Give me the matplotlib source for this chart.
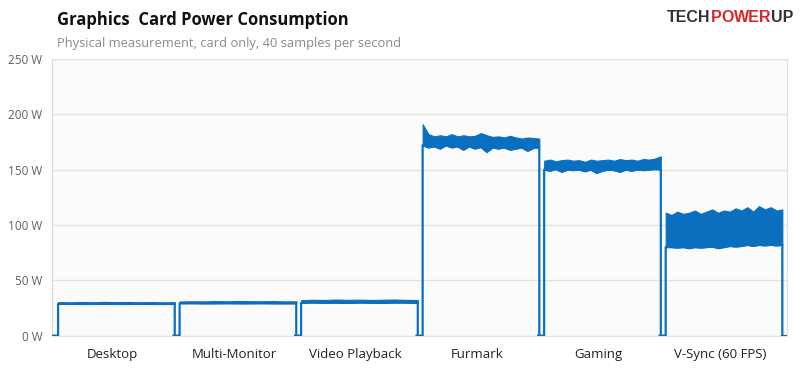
import matplotlib.pyplot as plt
import numpy as np

plt.rcParams["font.family"] = ["Open Sans", "DejaVu Sans"]

categories = ["Desktop", "Multi-Monitor", "Video Playback", "Furmark", "Gaming", "V-Sync (60 FPS)"]

# envelope of the noisy trace, read at evenly spaced points across each test
desktop_lo = [28.6, 28.7, 28.6, 28.6, 28.7, 28.6, 28.6, 28.7, 28.6, 28.6, 28.6]
desktop_hi = [30.3, 30.0, 30.4, 30.1, 30.5, 30.2, 30.4, 30.1, 30.3, 30.0, 30.2]
multi_lo = [29.2, 29.3, 29.2, 29.2, 29.3, 29.2, 29.2, 29.3, 29.2, 29.2, 29.2]
multi_hi = [30.8, 31.0, 30.9, 31.2, 31.0, 31.3, 31.1, 31.0, 31.2, 30.9, 31.0]
video_lo = [29.6, 29.9, 29.7, 29.8, 29.5, 29.9, 29.7, 29.6, 29.9, 29.8, 29.6]
video_hi = [32.0, 32.4, 32.2, 32.6, 32.3, 32.5, 32.2, 32.4, 32.6, 32.3, 32.1]
furmark_lo = [172, 170, 171, 169, 172, 170, 171, 168, 171, 169, 170.5, 166, 170,
              169, 170, 168, 169, 170, 167, 169.5, 170]
furmark_hi = [191, 182, 180, 181, 180, 182, 180, 181, 180, 180.5, 183, 181, 179.5,
              180, 179, 180.5, 179, 178, 179, 178.5, 178]
gaming_lo = [150, 149, 150.5, 148, 150, 149.5, 150, 148.5, 150, 147, 149, 150,
             149.5, 148, 150, 149, 150, 149.5, 150, 150.5, 150]
gaming_hi = [158, 159, 157.5, 158.5, 159, 158, 158.5, 157, 159, 158, 158.5, 159,
             158, 159.5, 158.5, 159, 158, 159.5, 159, 160, 162]
vsync_lo = [80, 80, 79.5, 80, 79, 80, 79.5, 80, 80.5, 79, 80, 81, 80.5, 81, 82,
            81, 82, 81.5, 82, 81.5, 82]
vsync_hi = [111, 109, 112, 110, 111, 113, 110, 112, 114, 111, 113, 112, 115, 113,
            116, 112, 117, 114, 116, 113, 114]

lows = [desktop_lo, multi_lo, video_lo, furmark_lo, gaming_lo, vsync_lo]
highs = [desktop_hi, multi_hi, video_hi, furmark_hi, gaming_hi, vsync_hi]

yticks = [0, 50, 100, 150, 200, 250]

blue = "#0b6fbf"
grid_c = "#e6e2d6"

fig = plt.figure(figsize=(8, 3.68), dpi=100)
ax = fig.add_axes([0.065, 0.088, 0.919, 0.752])
ax.set_facecolor("#fbfbfb")

rise, drop = 0.05, 1.01
for i, (lo, hi) in enumerate(zip(lows, highs)):
    xs = np.linspace(i + rise, i + drop, len(lo))
    ax.fill_between(xs, lo, hi, color=blue, lw=0.8, zorder=3)
    line_x = [i, i + rise, i + rise] + list(xs) + [i + drop, i + drop]
    line_y = [0, 0, lo[0]] + list(lo) + [lo[-1], 0]
    ax.plot(line_x, line_y, color=blue, lw=1.6, zorder=3)
ax.plot([len(categories) - 1 + drop, 6.05], [0, 0], color=blue, lw=1.6, zorder=3)

ax.set_xlim(0, 6.05)
ax.set_ylim(0, 250)
ax.set_yticks(yticks)
ax.set_yticklabels([f"{v} W" for v in yticks])
ax.set_xticks([i + 0.5 for i in range(len(categories))])
ax.set_xticklabels(categories)
ax.tick_params(axis="y", length=0, pad=7, labelsize=8.5, labelcolor="#606060")
ax.tick_params(axis="x", length=0, pad=9, labelsize=9.5, labelcolor="#222222")
ax.grid(axis="y", color=grid_c, lw=1)
ax.set_axisbelow(True)
for side in ["top", "right", "bottom"]:
    ax.spines[side].set_color(grid_c)
ax.spines["left"].set_color("#d8d8d8")

fig.text(57 / 800, 1 - 20 / 368, "Graphics  Card Power Consumption", fontsize=12,
         fontweight="bold", color="#111111", va="center", ha="left")
fig.text(57 / 800, 1 - 43 / 368, "Physical measurement, card only, 40 samples per second",
         fontsize=9.3, color="#8a8a8a", va="center", ha="left")

# logo, pieces placed one after another
renderer = fig.canvas.get_renderer()
x = 667 / 800
for piece, col in [("TECH", "#333333"), ("P", "#d9262b"), ("O", "#d9262b"),
                   ("WER", "#d9262b"), ("UP", "#333333")]:
    t = fig.text(x, 1 - 17 / 368, piece, fontsize=11.5, fontweight="bold", color=col,
                 va="center", ha="left", family="Liberation Sans")
    bb = t.get_window_extent(renderer)
    x += bb.width / fig.bbox.width

fig.savefig("out.png", dpi=100)
